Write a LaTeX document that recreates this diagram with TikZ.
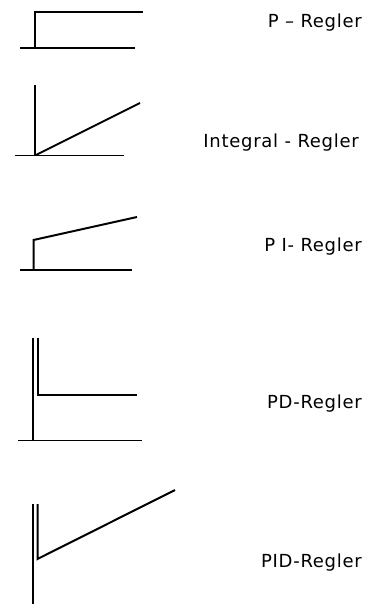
\documentclass[tikz,border=0pt]{standalone}
\usepackage{fontspec}
\setmainfont{DejaVu Sans}[LetterSpace=4]
\begin{document}
\begin{tikzpicture}[x=1pt,y=-1pt,
  curve/.style={line width=2pt,line cap=butt,line join=miter},
  axis/.style={line width=1.5pt},
  lbl/.style={anchor=east,inner sep=0pt,font=\fontsize{18}{20}\selectfont}]
\useasboundingbox (0,0) rectangle (390,604);
% P-Regler
\draw[axis] (20,48) -- (135,48);
\draw[curve] (35,48) -- (35,12) -- (143,12);
\node[lbl] (p) at (362,23) {P – Regler};
% Integral-Regler
\draw[axis] (15,155.5) -- (124,155.5);
\draw[axis] (35,85) -- (35,156);
\draw[curve] (36,155) -- (140,103);
\node[lbl] (i) at (359,143) {Integral - Regler};
% PI-Regler
\draw[axis] (20,270) -- (132,270);
\draw[curve] (33.5,270) -- (33.5,240) -- (137,217);
\node[lbl] (pi) at (362,247) {P I- Regler};
% PD-Regler
\draw[axis] (18,440.5) -- (142,440.5);
\draw[curve] (33,338) -- (33,441);
\draw[curve] (38,338) -- (38,395) -- (137,395);
\node[lbl] (pd) at (362,404) {PD-Regler};
% PID-Regler
\draw[curve] (33,504) -- (33,604);
\draw[curve] (37.5,504) -- (37.5,559) -- (175,490);
\node[lbl] (pid) at (362,563) {PID-Regler};
\end{tikzpicture}
\end{document}
